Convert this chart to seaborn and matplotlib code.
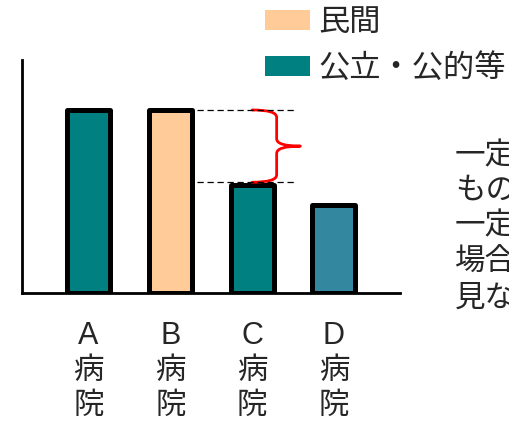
import matplotlib
matplotlib.use("Agg")
import matplotlib.pyplot as plt
import seaborn as sns
from matplotlib.patches import Patch, PathPatch
from matplotlib.path import Path

sns.set_style("white")
plt.rcParams['font.family'] = ['Liberation Sans', 'Noto Sans CJK JP', 'DejaVu Sans']

# ---- data ----
hospitals = ["A\n病\n院", "B\n病\n院", "C\n病\n院", "D\n病\n院"]
values = [100, 100, 59, 48]
bar_colors = ["#008080", "#FFCC99", "#008080", "#3388A0"]
legend_labels = ["民間", "公立・公的等"]
legend_colors = ["#FFCC99", "#008080"]
note_lines = ["一定の差がある", "ものの", "一定の範囲内の", "場合は同等と", "見なす"]

fig = plt.figure(figsize=(5.10, 4.21), dpi=100)
W, H = 510, 421
ax = fig.add_axes([22 / W, (H - 293) / H, (400 - 22) / W, (293 - 60) / H])

sns.barplot(x=hospitals, y=values, hue=hospitals, palette=bar_colors, legend=False,
            width=0.525, edgecolor="black", linewidth=3.6, saturation=1, ax=ax)
for p in ax.patches:
    p.set_joinstyle("round")

ax.set_xlim(-0.813, 3.808)
ax.set_ylim(0, 127.3)
ax.set_yticks([])
ax.set_xlabel("")
ax.set_ylabel("")
for s in ["top", "right"]:
    ax.spines[s].set_visible(False)
for s in ["left", "bottom"]:
    ax.spines[s].set_color("black")
    ax.spines[s].set_linewidth(2.0)
ax.tick_params(axis="x", length=0, pad=20)
for t in ax.get_xticklabels():
    t.set_fontsize(22)
    t.set_linespacing(1.22)
    t.set_family(['Liberation Sans', 'Noto Sans CJK JP'])

# dashed reference lines
y_top = values[1]
y_bot = values[2] + 1.5
ax.hlines([y_top, y_bot], 1.326, 2.52, colors="black", linestyles=(0, (5, 3)), linewidth=0.9)

# red brace
x0, xm, xt = 2.0, 2.30, 2.59
ymid = (y_top + y_bot) / 2
dy = 4.0
verts = [(x0, y_top), (xm, y_top), (xm, y_top - dy), (xm, ymid + dy),
         (xm, ymid), (xt, ymid),
         (xm, ymid), (xm, ymid - dy), (xm, y_bot + dy),
         (xm, y_bot), (x0, y_bot)]
codes = [Path.MOVETO, Path.CURVE3, Path.CURVE3, Path.LINETO,
         Path.CURVE3, Path.CURVE3,
         Path.CURVE3, Path.CURVE3, Path.LINETO,
         Path.CURVE3, Path.CURVE3]
ax.add_patch(PathPatch(Path(verts, codes), facecolor="none", edgecolor="#FF0000",
                       linewidth=2.0, capstyle="round", joinstyle="round"))

# legend
handles = [Patch(facecolor=c, edgecolor="none") for c in legend_colors]
fig.legend(handles, legend_labels, loc="upper left", bbox_to_anchor=(262 / W, 1 - 3 / H),
           frameon=False, prop={"family": "Noto Sans CJK JP", "size": 22.5},
           handlelength=1.45, handleheight=0.6, handletextpad=0.25, labelspacing=0.45,
           borderaxespad=0, borderpad=0.1)

# side note (clipped by figure edge, as in the reference)
centers = [155, 190, 226, 262, 298]
for line, yc in zip(note_lines, centers):
    fig.text(455 / W, 1 - yc / H, line, fontsize=22, family="Noto Sans CJK JP",
             va="center", ha="left")

fig.savefig("out.png", dpi=100)
